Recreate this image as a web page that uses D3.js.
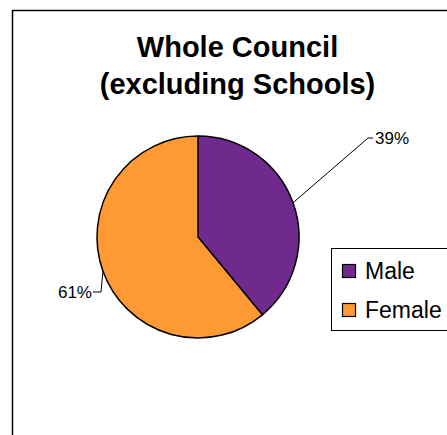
<!DOCTYPE html>
<html>
<head>
<meta charset="utf-8">
<script src="https://cdn.jsdelivr.net/npm/d3@7"></script>
<style>
  html, body { margin: 0; padding: 0; background: #fff; }
  svg { display: block; }
  text { font-family: "Liberation Sans", Arial, sans-serif; }
</style>
</head>
<body>
<script>
// Staff gender split, whole council excluding schools
const categories = ["Male", "Female"];
const shares = [39, 61];
const colors = ["#70298C", "#FF9933"];
const titleLines = ["Whole Council", "(excluding Schools)"];

const W = 447, H = 435;
const svg = d3.select("body").append("svg").attr("width", W).attr("height", H);

// chart area frame (runs off the right and bottom edges)
const frame = { x: 12.5, y: 10.5, w: 450, h: 450 };
svg.append("rect")
  .attr("x", frame.x).attr("y", frame.y)
  .attr("width", frame.w).attr("height", frame.h)
  .attr("fill", "#fff").attr("stroke", "#000").attr("stroke-width", 1.5);

// title, centred on the chart area
svg.append("g").selectAll("text").data(titleLines).join("text")
  .attr("x", frame.x + frame.w / 2).attr("y", (d, i) => 57 + i * 37)
  .attr("text-anchor", "middle")
  .attr("font-weight", "bold").attr("font-size", 29)
  .attr("fill", "#000")
  .text(d => d);

// pie
const cx = 198, cy = 237, r = 101;
const data = categories.map((c, i) => ({ name: c, value: shares[i], color: colors[i] }));
const pie = d3.pie().value(d => d.value).sort(null);
const arcs = pie(data);
const arc = d3.arc().innerRadius(0).outerRadius(r);

const g = svg.append("g").attr("transform", `translate(${cx},${cy})`);
g.selectAll("path").data(arcs).join("path")
  .attr("d", arc)
  .attr("fill", d => d.data.color)
  .attr("stroke", "#000").attr("stroke-width", 1.5)
  .attr("stroke-linejoin", "round");

// leader lines and percentage labels
const mid = d => (d.startAngle + d.endAngle) / 2;
const edge = (a, rr) => [rr * Math.sin(a), -rr * Math.cos(a)];

// Male label: up and to the right
{
  const d = arcs[0];
  const p0 = edge(mid(d), r);
  const p1 = [p0[0] + 75, -99];
  const p2 = [p1[0] + 5, p1[1]];
  g.append("polyline")
    .attr("points", [p0, p1, p2].map(p => p.join(",")).join(" "))
    .attr("fill", "none").attr("stroke", "#000").attr("stroke-width", 1);
  g.append("text")
    .attr("x", p2[0] + 2).attr("y", p2[1])
    .attr("dy", "0.35em").attr("font-size", 17)
    .text(d.data.value + "%");
}

// Female label: left side
{
  const d = arcs[1];
  const p0 = edge(mid(d), r);
  const p1 = [p0[0] - 2, 55];
  const p2 = [p1[0] - 8, p1[1]];
  g.append("polyline")
    .attr("points", [p0, p1, p2].map(p => p.join(",")).join(" "))
    .attr("fill", "none").attr("stroke", "#000").attr("stroke-width", 1);
  g.append("text")
    .attr("x", p2[0] - 1).attr("y", p2[1])
    .attr("dy", "0.35em").attr("font-size", 17)
    .attr("text-anchor", "end")
    .text(d.data.value + "%");
}

// legend
const lg = svg.append("g");
lg.append("rect")
  .attr("x", 331.5).attr("y", 248.5)
  .attr("width", 130).attr("height", 82)
  .attr("fill", "#fff").attr("stroke", "#000").attr("stroke-width", 1);
const items = lg.selectAll("g.item").data(data).join("g")
  .attr("class", "item")
  .attr("transform", (d, i) => `translate(342,${271 + i * 39})`);
items.append("rect")
  .attr("x", 0.5).attr("y", -6.5).attr("width", 13).attr("height", 13)
  .attr("fill", d => d.color).attr("stroke", "#000").attr("stroke-width", 1.2);
items.append("text")
  .attr("x", 23).attr("y", 0)
  .attr("dy", "0.36em")
  .attr("font-size", 23)
  .text(d => d.name);
</script>
</body>
</html>
